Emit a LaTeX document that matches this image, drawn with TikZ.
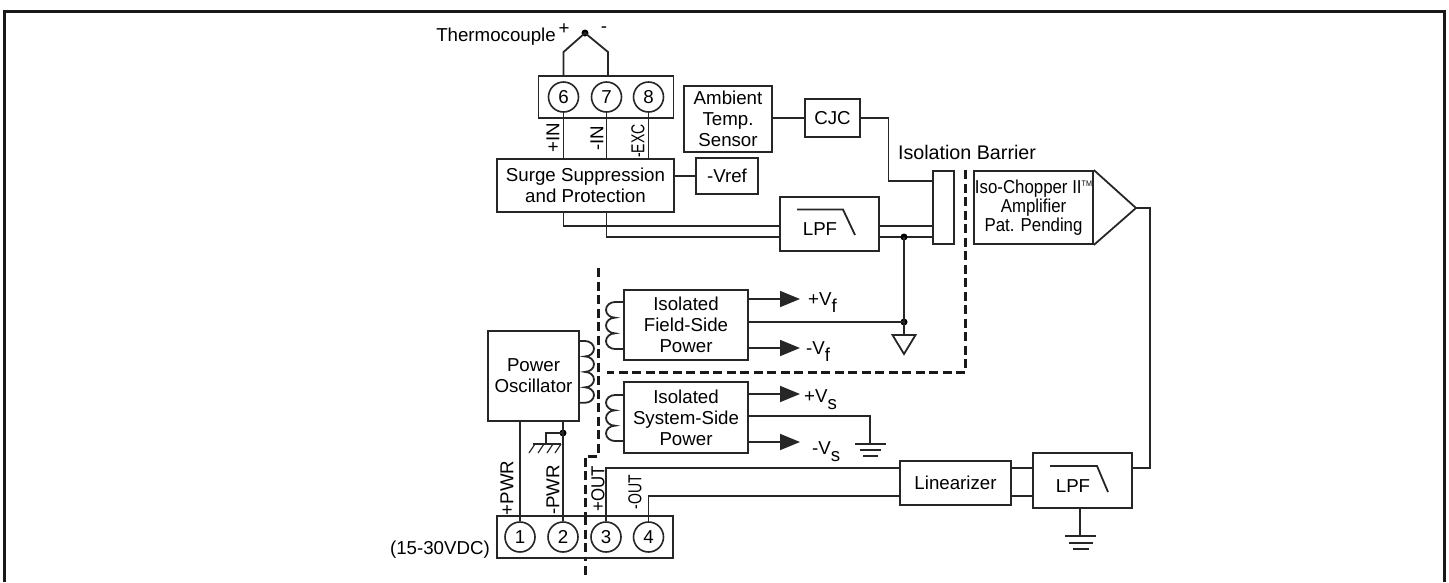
\documentclass[tikz,border=0pt]{standalone}
\usepackage{fontspec}
\setmainfont{Liberation Sans}
\newfontfamily\ampfont[FakeStretch=0.9]{Liberation Sans}
\newfontfamily\slimfont[FakeStretch=0.75]{Liberation Sans}
\usetikzlibrary{arrows.meta}
\tikzset{
	wire/.style={line width=1.8pt,draw=black!85},
	block/.style={draw=black!85,line width=1.8pt,fill=white,inner sep=0pt,align=center,font=\fontsize{18.7}{21}\selectfont},
	term/.style={draw=black!85,circle,line width=1.6pt,minimum size=30pt,inner sep=0pt,font=\fontsize{18.7}{21}\selectfont},
	txt/.style={inner sep=0pt,font=\fontsize{18.7}{21}\selectfont},
	vert/.style={txt,rotate=90},
	vertslim/.style={vert,font=\slimfont\fontsize{18.7}{21}\selectfont},
	barrier/.style={line width=3pt,draw=black!90,dash pattern=on 9pt off 4.5pt},
	jdot/.style={circle,fill=black,inner sep=0pt,minimum size=7pt},
	tip/.style={wire,-{Triangle[length=20pt,width=16pt]}}
}
\begin{document}
\begin{tikzpicture}[x=1pt,y=-1pt]
	\useasboundingbox (0,0) rectangle (1449,582);
	\draw[line width=3pt,draw=black!90] (4.5,582)--(4.5,11)--(1444.5,11)--(1444.5,582);
	% thermocouple and input terminals
	\node[txt,anchor=east] at (556,37) (tc) {Thermocouple};
	\node[txt] at (564,29) (tcp) {+};
	\node[txt] at (604,30) (tcm) {-};
	\node[jdot] at (585,33) (tcj) {};
	\node[block,minimum width=135pt,minimum height=42pt] at (606,97) (inbox) {};
	\node[term] at (563.5,97) (t6) {6};
	\node[term] at (606.5,97) (t7) {7};
	\node[term] at (648.5,97) (t8) {8};
	\node[block,minimum width=177pt,minimum height=53pt] at (585.5,185.5) (surge) {Surge Suppression\\and Protection};
	\node[block,minimum width=62pt,minimum height=36pt] at (727,176) (vref) {-Vref};
	\draw[wire] (563.5,76)--(563.5,52)--(tcj.center)--(608,52)--(608,76);
	\draw[wire] (t6.south)--(t6.south|-surge.north);
	\draw[wire] (t7.south)--(t7.south|-surge.north);
	\draw[wire] (t8.south)--(t8.south|-surge.north);
	\draw[wire] (surge.east|-vref.west)--(vref.west);
	\node[vert] at (553,138) (lblin) {+IN};
	\node[vert] at (597,138) (lblinm) {-IN};
	\node[vertslim] at (638,141) (lblexc) {-EXC};
	% sensor branch
	\node[block,minimum width=88pt,minimum height=66pt] at (728,119) (sensor) {Ambient\\Temp.\\Sensor};
	\node[block,minimum width=55pt,minimum height=38pt] at (832.5,118) (cjc) {CJC};
	\node[txt,font=\fontsize{19.7}{21}\selectfont] at (967,152) (isolabel) {Isolation Barrier};
	\node[block,minimum width=20.5pt,minimum height=73pt] at (943.5,207.5) (bar) {};
	\coordinate (cjcin) at (933,181);
	\draw[wire] (sensor.east|-cjc.west)--(cjc.west);
	\draw[wire] (cjc.east)--(888.5,118)--(888.5,181)--(cjcin);
	% input filter
	\node[block,minimum width=99pt,minimum height=54pt] at (829.5,224) (lpfa) {};
	\node[txt] at (820,229) (lpfatxt) {LPF};
	\draw[wire] (797,209.5)--(843,209.5)--(855,235);
	\draw[wire] (surge.south-|t6)--(563.5,226)--(780,226);
	\draw[wire] (surge.south-|t7)--(606.5,237)--(780,237);
	\draw[wire] (879,226)--(933,226);
	\draw[wire] (879,237)--(933,237);
	\node[jdot] at (904,237) (ja) {};
	\node[jdot] at (904,322) (jb) {};
	\coordinate (gfa) at (904,335);
	\draw[wire] (ja.center)--(jb.center)--(gfa);
	\draw[wire] (gfa)++(-11.5,0)--++(23,0)--(904,354)--cycle;
	% amplifier
	\node[block,minimum width=119pt,minimum height=73pt,font=\ampfont\fontsize{18.7}{19}\selectfont] at (1033.5,207.5) (amp) {\makebox[115pt]{Iso-Chopper II\raisebox{7pt}{\fontsize{8}{8}\selectfont TM}}\\Amplifier\\Pat. Pending};
	\coordinate (amptip) at (1136,208);
	\draw[wire] (amp.north east)--(amptip)--(amp.south east);
	% isolation barrier
	\draw[barrier] (965.5,170)--(965.5,372)--(607,372);
	\draw[barrier] (598,268)--(598,456)--(585,456)--(585,577);
	% field side power
	\node[block,minimum width=124pt,minimum height=70pt] at (686,325) (field) {Isolated\\Field-Side\\Power};
	\draw[wire] (field.west|-0,302)--(615,302) arc[start angle=270,end angle=90,x radius=9,y radius=7.83] arc[start angle=270,end angle=90,x radius=9,y radius=7.83] arc[start angle=270,end angle=90,x radius=9,y radius=7.83]--(field.west|-0,349);
	\draw[tip] (field.east|-0,299)--(800,299);
	\draw[tip] (field.east|-0,348)--(800,348);
	\draw[wire] (field.east|-jb)--(jb.center);
	\node[txt,anchor=base west] at (808,305) (vfp) {+V\raisebox{-7.5pt}{f}};
	\node[txt,anchor=base west] at (806,354) (vfm) {-V\raisebox{-7.5pt}{f}};
	% system side power
	\node[block,minimum width=124pt,minimum height=71pt] at (686,417.5) (sys) {Isolated\\System-Side\\Power};
	\draw[wire] (sys.west|-0,395)--(615,395) arc[start angle=270,end angle=90,x radius=9,y radius=7.67] arc[start angle=270,end angle=90,x radius=9,y radius=7.67] arc[start angle=270,end angle=90,x radius=9,y radius=7.67]--(sys.west|-0,441);
	\draw[tip] (sys.east|-0,394)--(800,394);
	\draw[tip] (sys.east|-0,442)--(800,442);
	\draw[wire] (sys.east|-0,416)--(870,416)--(870,444);
	\draw[wire] (855,444)--(886,444);
	\draw[wire] (860,450)--(881,450);
	\draw[wire] (863,456)--(878,456);
	\node[txt,anchor=base west] at (804,402) (vsp) {+V\raisebox{-7.5pt}{s}};
	\node[txt,anchor=base west] at (812,454) (vsm) {-V\raisebox{-7.5pt}{s}};
	% oscillator
	\node[block,minimum width=91pt,minimum height=90pt] at (533.5,376) (osc) {Power\\Oscillator};
	\draw[wire] (osc.east|-0,341)--(585,341) arc[start angle=270,end angle=450,x radius=9,y radius=7.72] arc[start angle=270,end angle=450,x radius=9,y radius=7.72] arc[start angle=270,end angle=450,x radius=9,y radius=7.72] arc[start angle=270,end angle=450,x radius=9,y radius=7.72]--(osc.east|-0,402.7);
	\node[block,minimum width=176pt,minimum height=42pt] at (585,537) (outbox) {};
	\draw[barrier] (585,516)--(585,558);
	\node[term] at (520,537) (t1) {1};
	\node[term] at (563,537) (t2) {2};
	\node[term] at (606,537) (t3) {3};
	\node[term] at (648.5,537) (t4) {4};
	\node[jdot] at (563,433) (jc) {};
	\draw[wire] (osc.south-|t1)--(t1.north);
	\draw[wire] (osc.south-|t2)--(t2.north);
	\draw[wire] (jc.center)--(546,433)--(546,444);
	\draw[wire] (533,444)--(561,444);
	\foreach \hx in {535,544,553,561} \draw[wire,line width=1.2pt] (\hx,444)--(\hx-6,453);
	\node[txt,anchor=east] at (490,550) (vdc) {(15-30VDC)};
	\node[vert] at (507,488) (lblpp) {+PWR};
	\node[vert] at (553,490) (lblpm) {-PWR};
	\node[vert,font=\ampfont\fontsize{18.7}{21}\selectfont] at (598,489) (lblop) {+OUT};
	\node[vertslim] at (635,492) (lblom) {-OUT};
	% output chain
	\node[block,minimum width=111pt,minimum height=44pt] at (955.5,483) (lin) {Linearizer};
	\node[block,minimum width=99pt,minimum height=55pt] at (1082.5,480.5) (lpfb) {};
	\node[txt] at (1073,486) (lpfbtxt) {LPF};
	\draw[wire] (1050,466)--(1097,466)--(1108,492);
	\draw[wire] (t3.north)--(606,468)--(900,468);
	\draw[wire] (t4.north)--(648.5,496)--(900,496);
	\draw[wire] (1011,468)--(1033,468);
	\draw[wire] (1011,496)--(1033,496);
	\draw[wire] (amptip)--(1150,208)--(1150,468)--(1132,468);
	\draw[wire] (1080,508)--(1080,536);
	\draw[wire] (1065,536)--(1096,536);
	\draw[wire] (1069,543)--(1093,543);
	\draw[wire] (1073,549)--(1089,549);
\end{tikzpicture}
\end{document}
